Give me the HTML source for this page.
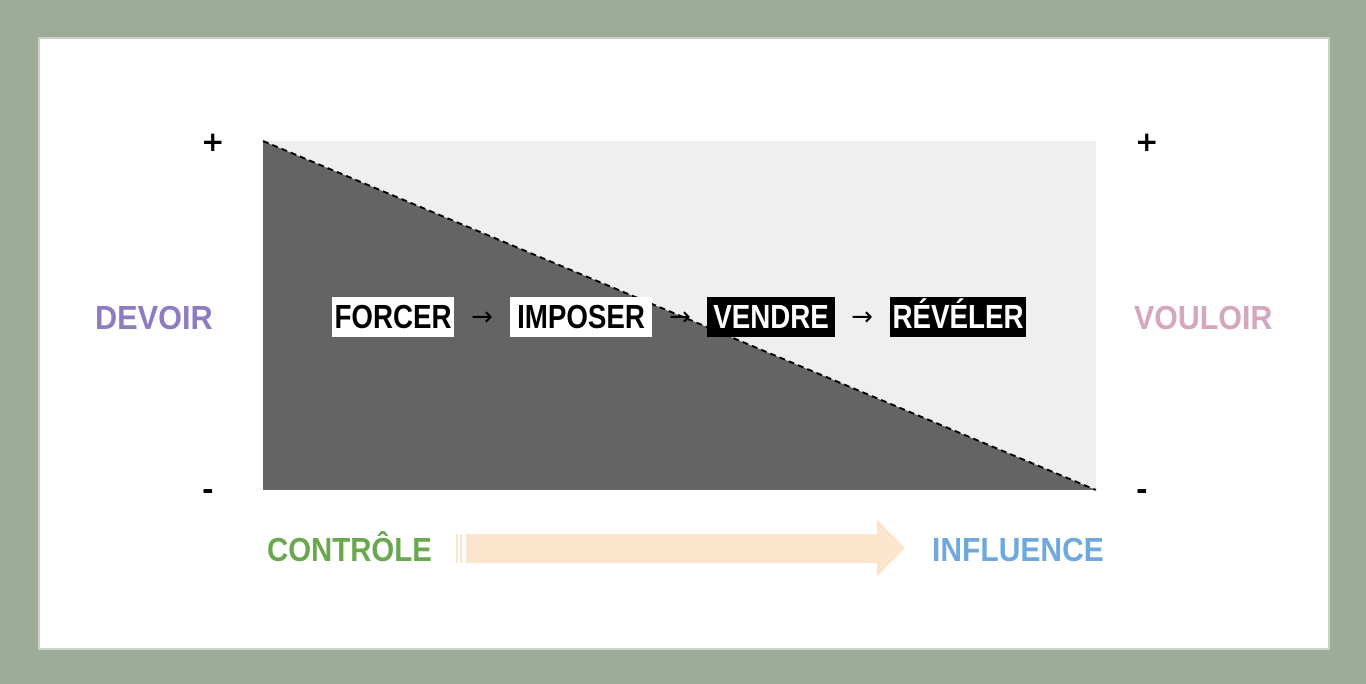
<!DOCTYPE html>
<html><head><meta charset="utf-8"><style>
html,body{margin:0;padding:0}
body{width:1366px;height:684px;background:#9dab98;position:relative;overflow:hidden;font-family:"Liberation Sans",sans-serif;font-weight:bold}
.panel{position:absolute;left:38px;top:37px;width:1288px;height:609px;background:#fff;border:2px solid #c9d3c5}
.t{position:absolute;white-space:nowrap;line-height:1;transform-origin:left center}
.box{position:absolute;height:40px;top:297px;font-size:33px;line-height:40px;white-space:nowrap}
.box span{position:absolute;left:50%;top:0;transform:translateX(-50%) scaleX(.84);transform-origin:center}
.w{background:#fff;color:#000}
.b{background:#000;color:#fff}
.ar{position:absolute;top:297px;width:40px;text-align:center;font-size:26px;line-height:40px;color:#000;font-family:"DejaVu Sans",sans-serif;font-weight:normal}
.pm{position:absolute;font-size:28px;color:#000;font-family:"DejaVu Sans",sans-serif;line-height:1}
</style></head><body>
<div class="panel"></div>
<svg style="position:absolute;left:0;top:0" width="1366" height="684">
<rect x="263" y="141" width="833" height="349" fill="#efefef"/>
<polygon points="263,141 1096,490 263,490" fill="#646464"/>
<line x1="263" y1="141" x2="1096" y2="490" stroke="#000" stroke-width="2" stroke-dasharray="6,4"/>
<polygon points="466,534 877,534 877,519 905,548 877,577 877,563 466,563" fill="#fce5cd"/>
<rect x="456" y="534" width="2" height="29" fill="#fce5cd"/>
<rect x="460" y="534" width="2" height="29" fill="#fce5cd"/>
</svg>
<div class="pm" style="left:201px;top:128px">+</div>
<div class="pm" style="left:1135px;top:128px">+</div>
<div class="pm" style="left:202px;top:476px">-</div>
<div class="pm" style="left:1136px;top:476px">-</div>
<div class="t" style="left:95px;top:301px;font-size:33px;color:#8e7cc3;transform:scaleX(.93)">DEVOIR</div>
<div class="t" style="left:1134px;top:301px;font-size:33px;color:#d5a6bd;transform:scaleX(.92)">VOULOIR</div>
<div class="t" style="left:267px;top:533px;font-size:33px;color:#6aa84f;transform:scaleX(.89)">CONTRÔLE</div>
<div class="t" style="left:932px;top:533px;font-size:33px;color:#6fa8dc;transform:scaleX(.91)">INFLUENCE</div>
<div class="box w" style="left:332px;width:122px"><span>FORCER</span></div>
<div class="ar" style="left:462px">→</div>
<div class="box w" style="left:510px;width:142px"><span>IMPOSER</span></div>
<div class="ar" style="left:660px">→</div>
<div class="box b" style="left:707px;width:128px"><span>VENDRE</span></div>
<div class="ar" style="left:842px">→</div>
<div class="box b" style="left:890px;width:136px"><span>RÉVÉLER</span></div>
</body></html>
